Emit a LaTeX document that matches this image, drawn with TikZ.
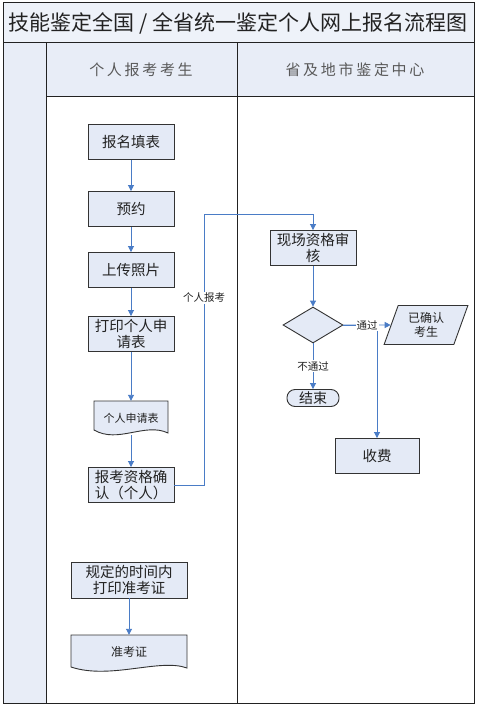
\documentclass[tikz,border=0pt]{standalone}
\usepackage{fontspec}
\setmainfont{Noto Sans CJK SC}
\usetikzlibrary{arrows.meta,shapes.geometric}

\definecolor{titlefill}{HTML}{EEF2F9}
\definecolor{lanefill}{HTML}{E8EDF7}
\definecolor{boxfill}{HTML}{E4EAF6}
\definecolor{boxline}{HTML}{333333}
\definecolor{frameline}{HTML}{222222}
\definecolor{flowblue}{HTML}{4A7CC6}
\definecolor{ink}{HTML}{222222}

\begin{document}
\begin{tikzpicture}[x=1pt,y=-1pt,
    procbox/.style={draw=boxline, fill=boxfill, line width=0.9pt, minimum width=86pt, minimum height=35pt, inner sep=1pt, align=center, text=ink, font=\fontsize{14.5}{16}\selectfont},
    doctext/.style={inner sep=0pt, text=ink, font=\fontsize{11}{13}\selectfont},
    docshape/.style={draw=boxline, fill=boxfill, line width=0.9pt},
    flow/.style={draw=flowblue, line width=0.9pt, -{Triangle[length=6pt,width=6pt]}},
    tag/.style={fill=white, inner sep=1pt, text=ink, font=\fontsize{10.5}{12}\selectfont},
    frame/.style={draw=frameline, line width=1pt},
    lanehead/.style={text=ink!75, font=\fontsize{15}{18}\selectfont\addfontfeature{LetterSpace=18}}]

    \useasboundingbox (0,0) rectangle (477,706);

    % swimlane frame
    \filldraw[frame, fill=titlefill] (3,3) rectangle (474,43);
    \filldraw[frame, fill=lanefill] (3,43) rectangle (46,703);
    \filldraw[frame, fill=lanefill] (46,43) rectangle (474,97);
    \draw[frame] (46,97) rectangle (474,703);
    \draw[frame] (237,43) -- (237,703);

    \node[text=ink, font=\fontsize{21}{24}\selectfont] (title) at (238,23) {技能鉴定全国 / 全省统一鉴定个人网上报名流程图};
    \node[lanehead] (candidate) at (141,70) {个人报考考生};
    \node[lanehead] (centre) at (355,70) {省及地市鉴定中心};

    % candidate lane
    \node[procbox] (apply) at (131,142) {报名填表};
    \node[procbox] (book) at (131,209) {预约};
    \node[procbox] (photo) at (131,270) {上传照片};
    \node[procbox] (print) at (131,334) {打印个人申\\请表};
    \filldraw[docshape] (94,401) -- (168,401) -- (168,433) .. controls (145,422) and (118,444) .. (94,430) -- cycle;
    \node[doctext, minimum width=74pt, minimum height=34pt] (form) at (131,418) {个人申请表};
    \node[procbox] (confirm) at (131,485) {报考资格确\\认（个人）};
    \node[procbox, minimum width=116pt, minimum height=36pt] (admit) at (129,580) {规定的时间内\\打印准考证};
    \filldraw[docshape] (71,635) -- (187,635) -- (187,668) .. controls (160,658) and (110,680) .. (71,667) -- cycle;
    \node[doctext, font=\fontsize{12}{14}\selectfont, minimum width=116pt, minimum height=34pt] (ticket) at (129,652) {准考证};

    % centre lane
    \node[procbox] (check) at (313,248) {现场资格审\\核};
    \node[diamond, draw=boxline, fill=boxfill, line width=0.9pt, minimum width=60pt, minimum height=36pt, inner sep=0pt] (pass) at (313,325) {};
    \node[trapezium, trapezium left angle=70, trapezium right angle=110, trapezium stretches=true, draw=boxline, fill=boxfill, line width=0.9pt, minimum width=84pt, minimum height=39pt, inner sep=0pt, align=center, text=ink, font=\fontsize{12}{14}\selectfont] (done) at (426,325) {已确认\\考生};
    \node[draw=boxline, fill=boxfill, line width=0.9pt, rounded corners=8pt, minimum width=52pt, minimum height=17pt, inner sep=0pt, text=ink, font=\fontsize{14}{16}\selectfont] (stop) at (313,398) {结束};
    \node[procbox, minimum width=84pt] (fee) at (377,456) {收费};

    % connectors
    \draw[flow] (apply) -- (book);
    \draw[flow] (book) -- (photo);
    \draw[flow] (photo) -- (print);
    \draw[flow] (print) -- (form);
    \draw[flow] (form) -- (confirm);
    \draw[flow] (admit) -- (ticket);
    \draw[flow] (confirm.east) -- (204,485) -- node[tag, pos=0.69] {个人报考} (204,214) -| (check.north);
    \draw[flow] (check) -- (pass);
    \draw[flow] (pass) -- node[tag] {不通过} (stop);
    \draw[flow] (pass.east) -| (fee.north);
    \draw[flow] (pass.east) -- node[tag] {通过} (done);
\end{tikzpicture}
\end{document}
